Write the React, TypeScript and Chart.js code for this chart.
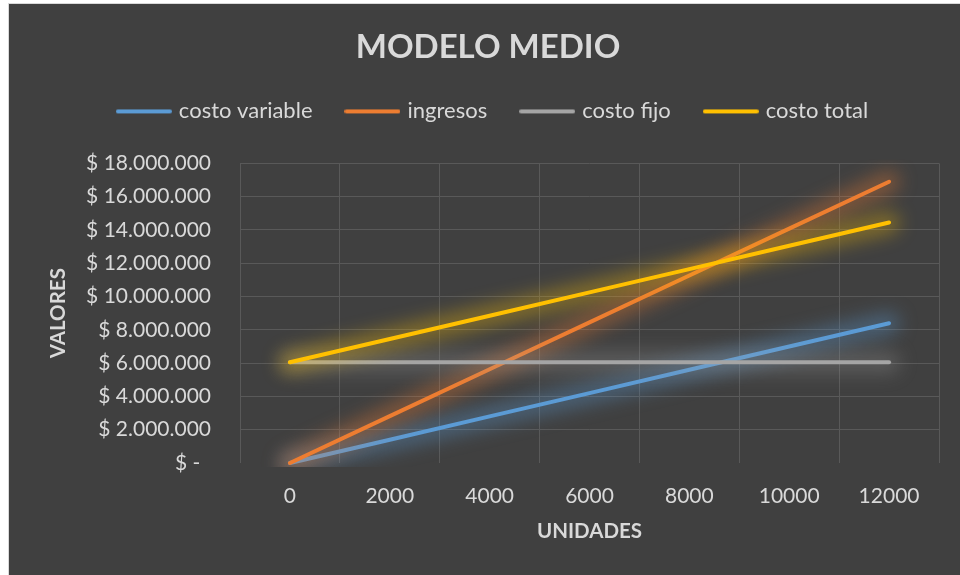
import React, { useEffect, useRef } from "react";
import { Chart, registerables } from "chart.js";

Chart.register(...registerables);

const categories = ["0", "2000", "4000", "6000", "8000", "10000", "12000"];
const costoVariable = [0, 1400000, 2800000, 4200000, 5600000, 7000000, 8400000];
const ingresos = [0, 2816000, 5632000, 8448000, 11264000, 14080000, 16900000];
const costoFijo = [6050000, 6050000, 6050000, 6050000, 6050000, 6050000, 6050000];
const costoTotal = [6050000, 7450000, 8850000, 10250000, 11650000, 13050000, 14450000];

const yMin = 0;
const yMax = 18000000;
const yStep = 2000000;

const FONT = "Lato, 'Open Sans', sans-serif";
const TEXT = "#d9d9d9";
const GRID = "#595959";

function fmt(v: number): string {
  if (v === 0) return "$ -  ";
  const s = Math.round(v).toString();
  return "$ " + s.replace(/\B(?=(\d{3})+(?!\d))/g, ".");
}

function legendLine(color: string): HTMLCanvasElement {
  const c = document.createElement("canvas");
  c.width = 56;
  c.height = 6;
  const g = c.getContext("2d")!;
  g.strokeStyle = color;
  g.lineWidth = 4;
  g.lineCap = "round";
  g.beginPath();
  g.moveTo(2, 3);
  g.lineTo(54, 3);
  g.stroke();
  return c;
}

const glowPlugin = {
  id: "glow",
  beforeDatasetDraw(chart: any, args: any) {
    const ds = chart.data.datasets[args.index];
    const meta = chart.getDatasetMeta(args.index);
    const pts = meta.data;
    if (!pts || pts.length < 2) return;
    const ctx = chart.ctx;
    const a = chart.chartArea;
    ctx.save();
    ctx.beginPath();
    ctx.rect(a.left - 4, a.top - 4, a.right - a.left + 8, a.bottom - a.top + 8);
    ctx.clip();
    ctx.filter = "blur(9px)";
    ctx.strokeStyle = ds.glowColor;
    ctx.lineWidth = 22;
    ctx.lineCap = "round";
    ctx.lineJoin = "round";
    ctx.beginPath();
    ctx.moveTo(pts[0].x, pts[0].y);
    for (let i = 1; i < pts.length; i++) ctx.lineTo(pts[i].x, pts[i].y);
    ctx.stroke();
    ctx.restore();
  },
};

const legendSpacePlugin = {
  id: "legendSpace",
  beforeLayout(chart: any) {
    const lg = chart.legend;
    if (lg && !lg._patched) {
      const orig = lg.fit;
      lg.fit = function () {
        orig.call(this);
        this.height += 31;
      };
      lg._patched = true;
    }
  },
  afterLayout(chart: any) {
    const lg = chart.legend;
    if (lg) {
      lg.left += 6;
      lg.right += 6;
    }
  },
};

export default function App() {
  const ref = useRef<HTMLCanvasElement | null>(null);
  useEffect(() => {
    if (!ref.current) return;
    const mk = (label: string, data: number[], color: string, glow: string, order: number) => ({
      label,
      data,
      borderColor: color,
      backgroundColor: color,
      borderWidth: 4,
      borderCapStyle: "round",
      borderJoinStyle: "round",
      pointRadius: 0,
      pointHoverRadius: 0,
      pointStyle: legendLine(color),
      tension: 0,
      fill: false,
      order,
      glowColor: glow,
      clip: 4,
    });
    const chart = new Chart(ref.current, {
      type: "line",
      data: {
        labels: categories,
        datasets: [
          mk("costo variable", costoVariable, "#5B9BD5", "rgba(91,155,213,0.36)", 4),
          mk("ingresos", ingresos, "#ED7D31", "rgba(237,125,49,0.36)", 3),
          mk("costo fijo", costoFijo, "#A5A5A5", "rgba(165,165,165,0.28)", 2),
          mk("costo total", costoTotal, "#FFC000", "rgba(255,192,0,0.34)", 1),
        ] as any,
      },
      plugins: [glowPlugin, legendSpacePlugin],
      options: {
        animation: false,
        responsive: false,
        maintainAspectRatio: false,
        events: [],
        layout: { padding: { top: 0, left: 28, right: 23, bottom: 0 } },
        plugins: {
          title: {
            display: true,
            text: "MODELO MEDIO",
            color: TEXT,
            font: { family: FONT, size: 33, weight: "bold", lineHeight: 0.8 },
            padding: { top: 30, bottom: 4 },
          },
          legend: {
            display: true,
            position: "top",
            labels: {
              color: TEXT,
              font: { family: FONT, size: 22 },
              usePointStyle: true,
              pointStyleWidth: 48,
              boxHeight: 4,
              padding: 36,
              sort: (a: any, b: any) => a.datasetIndex - b.datasetIndex,
            },
          },
          tooltip: { enabled: false },
        },
        scales: {
          x: {
            type: "category",
            offset: true,
            grid: { offset: true, color: GRID, lineWidth: 1, drawTicks: false },
            border: { display: false },
            ticks: { color: TEXT, font: { family: FONT, size: 21 }, padding: 21, maxRotation: 0 },
            title: {
              display: true,
              text: "UNIDADES",
              color: TEXT,
              font: { family: FONT, size: 20.5, weight: "bold" },
              padding: { top: 0, bottom: 34 },
            },
            afterFit: (s: any) => {
              s.height = 115;
            },
          },
          y: {
            min: yMin,
            max: yMax,
            grid: {
              color: (c: any) => (c.tick && c.tick.value === 0 ? "rgba(0,0,0,0)" : GRID),
              lineWidth: 1,
              drawTicks: false,
            },
            border: { display: false },
            ticks: {
              stepSize: yStep,
              color: TEXT,
              font: { family: FONT, size: 21 },
              padding: 29,
              callback: (v: any) => fmt(Number(v)),
            },
            title: {
              display: true,
              text: "VALORES",
              color: TEXT,
              font: { family: FONT, size: 20.5, weight: "bold" },
              padding: { top: 9, bottom: 0 },
            },
            afterFit: (s: any) => {
              s.width = 203;
            },
          },
        },
      } as any,
    });
    return () => chart.destroy();
  }, []);

  return (
    <div
      style={{
        position: "fixed",
        left: 8,
        top: 3,
        width: 953,
        height: 574,
        border: "1px solid #d9d9d9",
        background: "#404040",
      }}
    >
      <canvas ref={ref} width={953} height={574} style={{ display: "block", width: 953, height: 574 }} />
    </div>
  );
}
